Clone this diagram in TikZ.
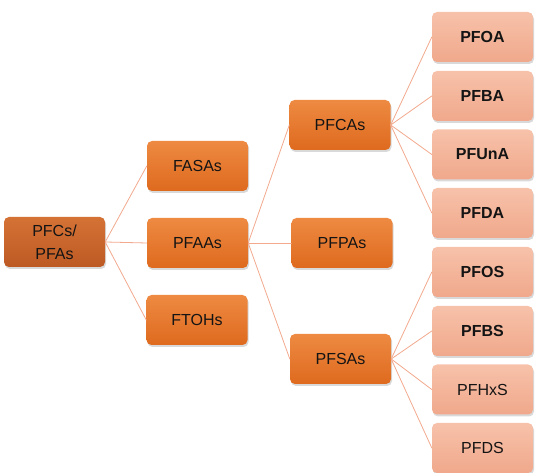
\documentclass[tikz,border=0pt]{standalone}
\usepackage{fontspec}
\setmainfont{Liberation Sans}
\usetikzlibrary{shadows}
\definecolor{rootTop}{HTML}{D47236}
\definecolor{rootBot}{HTML}{BD5A24}
\definecolor{midTop}{HTML}{EE8A42}
\definecolor{midBot}{HTML}{DE6A1E}
\definecolor{leafTop}{HTML}{F7C2AA}
\definecolor{leafBot}{HTML}{F0A88B}
\definecolor{linkCol}{HTML}{F2A98E}
\definecolor{txtCol}{HTML}{141414}
\begin{document}
\begin{tikzpicture}[x=1pt,y=1pt,line cap=round,line join=round,
  box/.style={rounded corners=5pt,minimum width=101pt,minimum height=50pt,
    align=center,text=txtCol,font=\fontsize{16}{23}\selectfont,
    drop shadow={shadow xshift=1pt,shadow yshift=-2pt,opacity=.3}},
  rootbox/.style={box,top color=rootTop,bottom color=rootBot},
  midbox/.style={box,top color=midTop,bottom color=midBot},
  leafbox/.style={box,top color=leafTop,bottom color=leafBot},
  link/.style={draw=linkCol,line width=.8pt}]
\useasboundingbox (0,0) rectangle (541,473);
		\node[rootbox] (pfc) at (54.5,231) {PFCs/\\PFAs};
		\node[midbox] (fasa) at (197.5,307) {FASAs};
		\node[midbox] (pfaa) at (197.5,230) {PFAAs};
		\node[midbox] (ftoh) at (197,153) {FTOHs};
		\node[midbox] (pfca) at (340,348) {PFCAs};
		\node[midbox] (pfpa) at (342,230) {PFPAs};
		\node[midbox] (pfsa) at (340.5,114) {PFSAs};
		\node[leafbox] (pfoa) at (482.5,436) {\bfseries PFOA};
		\node[leafbox] (pfba) at (482.5,377) {\bfseries PFBA};
		\node[leafbox] (pfuna) at (482.5,318.5) {\bfseries PFUnA};
		\node[leafbox] (pfda) at (482.5,260) {\bfseries PFDA};
		\node[leafbox] (pfos) at (482.5,201) {\bfseries PFOS};
		\node[leafbox] (pfbs) at (482.5,142) {\bfseries PFBS};
		\node[leafbox] (pfhxs) at (482.5,83.5) {PFHxS};
		\node[leafbox] (pfds) at (482.5,25) {PFDS};
		\draw[link] (pfc.east)-- (fasa.west);
		\draw[link] (pfc.east)-- (pfaa.west);
		\draw[link] (pfc.east)-- (ftoh.west);
		\draw[link] (pfaa.east)-- (pfca.west);
		\draw[link] (pfaa.east)-- (pfpa.west);
		\draw[link] (pfaa.east)-- (pfsa.west);
		\draw[link] (pfca.east)-- (pfoa.west);
		\draw[link] (pfca.east)-- (pfba.west);
		\draw[link] (pfca.east)-- (pfuna.west);
		\draw[link] (pfca.east)-- (pfda.west);
		\draw[link] (pfsa.east)-- (pfos.west);
		\draw[link] (pfsa.east)-- (pfbs.west);
		\draw[link] (pfsa.east)-- (pfhxs.west);
		\draw[link] (pfsa.east)-- (pfds.west);
\end{tikzpicture}
\end{document}
